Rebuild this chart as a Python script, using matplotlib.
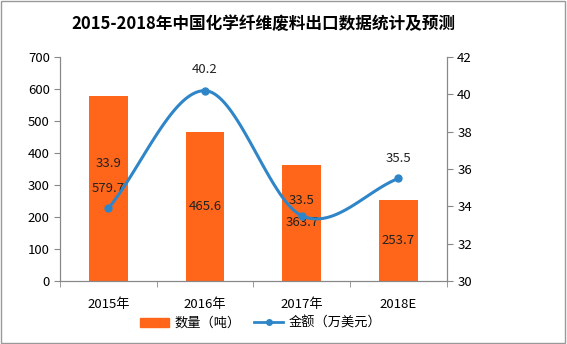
import matplotlib
matplotlib.use('Agg')
import matplotlib.pyplot as plt
import numpy as np
from matplotlib.lines import Line2D
from matplotlib.patches import Patch

plt.rcParams['font.family'] = ['Noto Sans CJK SC', 'DejaVu Sans']

years = ['2015年', '2016年', '2017年', '2018E']
quantity = [579.7, 465.6, 363.7, 253.7]   # 数量（吨）
amount = [33.9, 40.2, 33.5, 35.5]         # 金额（万美元）
amount_label_offset = [45, 21, 15, 20]    # px above the point

bar_color = '#FF6619'
line_color = '#2E86C8'
axis_color = '#888888'


def catmull_rom(xs, ys, n=40):
    # smooth curve through the points, like a spreadsheet "smoothed line"
    px = np.concatenate([[2 * xs[0] - xs[1]], xs, [2 * xs[-1] - xs[-2]]])
    py = np.concatenate([[2 * ys[0] - ys[1]], ys, [2 * ys[-1] - ys[-2]]])
    out_x, out_y = [], []
    for i in range(1, len(px) - 2):
        t = np.linspace(0, 1, n)
        for p, out in ((px, out_x), (py, out_y)):
            p0, p1, p2, p3 = p[i - 1], p[i], p[i + 1], p[i + 2]
            out.extend(0.5 * (2 * p1 + (-p0 + p2) * t
                              + (2 * p0 - 5 * p1 + 4 * p2 - p3) * t ** 2
                              + (-p0 + 3 * p1 - 3 * p2 + p3) * t ** 3))
    return np.array(out_x), np.array(out_y)


fig = plt.figure(figsize=(5.67, 3.44), dpi=100)
ax = fig.add_axes([0.106, 0.183, 0.682, 0.651])
ax2 = ax.twinx()

x = np.arange(len(years))
ax.bar(x, quantity, width=0.4, color=bar_color, zorder=2)
for xi, q in zip(x, quantity):
    ax.text(xi, q / 2, f'{q:.1f}', ha='center', va='center', fontsize=9.5, color='#222222')

sx, sy = catmull_rom(x.astype(float), np.array(amount))
ax2.plot(sx, sy, color=line_color, lw=2.2, zorder=3)
ax2.plot(x, amount, 'o', color=line_color, ms=5, zorder=4)
for xi, a, off in zip(x, amount, amount_label_offset):
    ax2.annotate(f'{a:.1f}', (xi, a), xytext=(0, off * 0.72), textcoords='offset points',
                 ha='center', va='center', fontsize=9.5, color='#222222')

ax.set_xlim(-0.5, 3.5)
ax.set_ylim(0, 700)
ax.set_yticks(range(0, 701, 100))
ax2.set_ylim(30, 42)
ax2.set_yticks(range(30, 43, 2))
ax.set_xticks(x)
ax.set_xticklabels(years)
ax.set_xticks(np.arange(-0.5, 4, 1), minor=True)
ax.tick_params(axis='x', which='major', length=0, pad=12, labelsize=9.5)
ax.tick_params(axis='x', which='minor', length=4, color=axis_color)
ax.tick_params(axis='y', length=4, color=axis_color, labelsize=9.5)
ax2.tick_params(axis='y', length=4, color=axis_color, labelsize=9.5)

for a in (ax, ax2):
    a.spines['top'].set_visible(False)
    for s in ('left', 'right', 'bottom'):
        a.spines[s].set_color(axis_color)

fig.suptitle('2015-2018年中国化学纤维废料出口数据统计及预测', x=0.465, y=0.955,
             fontsize=12, fontweight='bold')

handles = [Patch(color=bar_color), Line2D([], [], color=line_color, lw=2, marker='o', ms=4)]
fig.legend(handles, ['数量（吨）', '金额（万美元）'], loc='center', bbox_to_anchor=(0.46, 0.06),
           ncol=2, frameon=False, fontsize=9.5, handlelength=2.2, columnspacing=1.0,
           handletextpad=0.4)

fig.patches.append(plt.Rectangle((0.002, 0.003), 0.995, 0.994, transform=fig.transFigure,
                                 fill=False, edgecolor='#999999', lw=1))

fig.savefig('out.png', dpi=100)
